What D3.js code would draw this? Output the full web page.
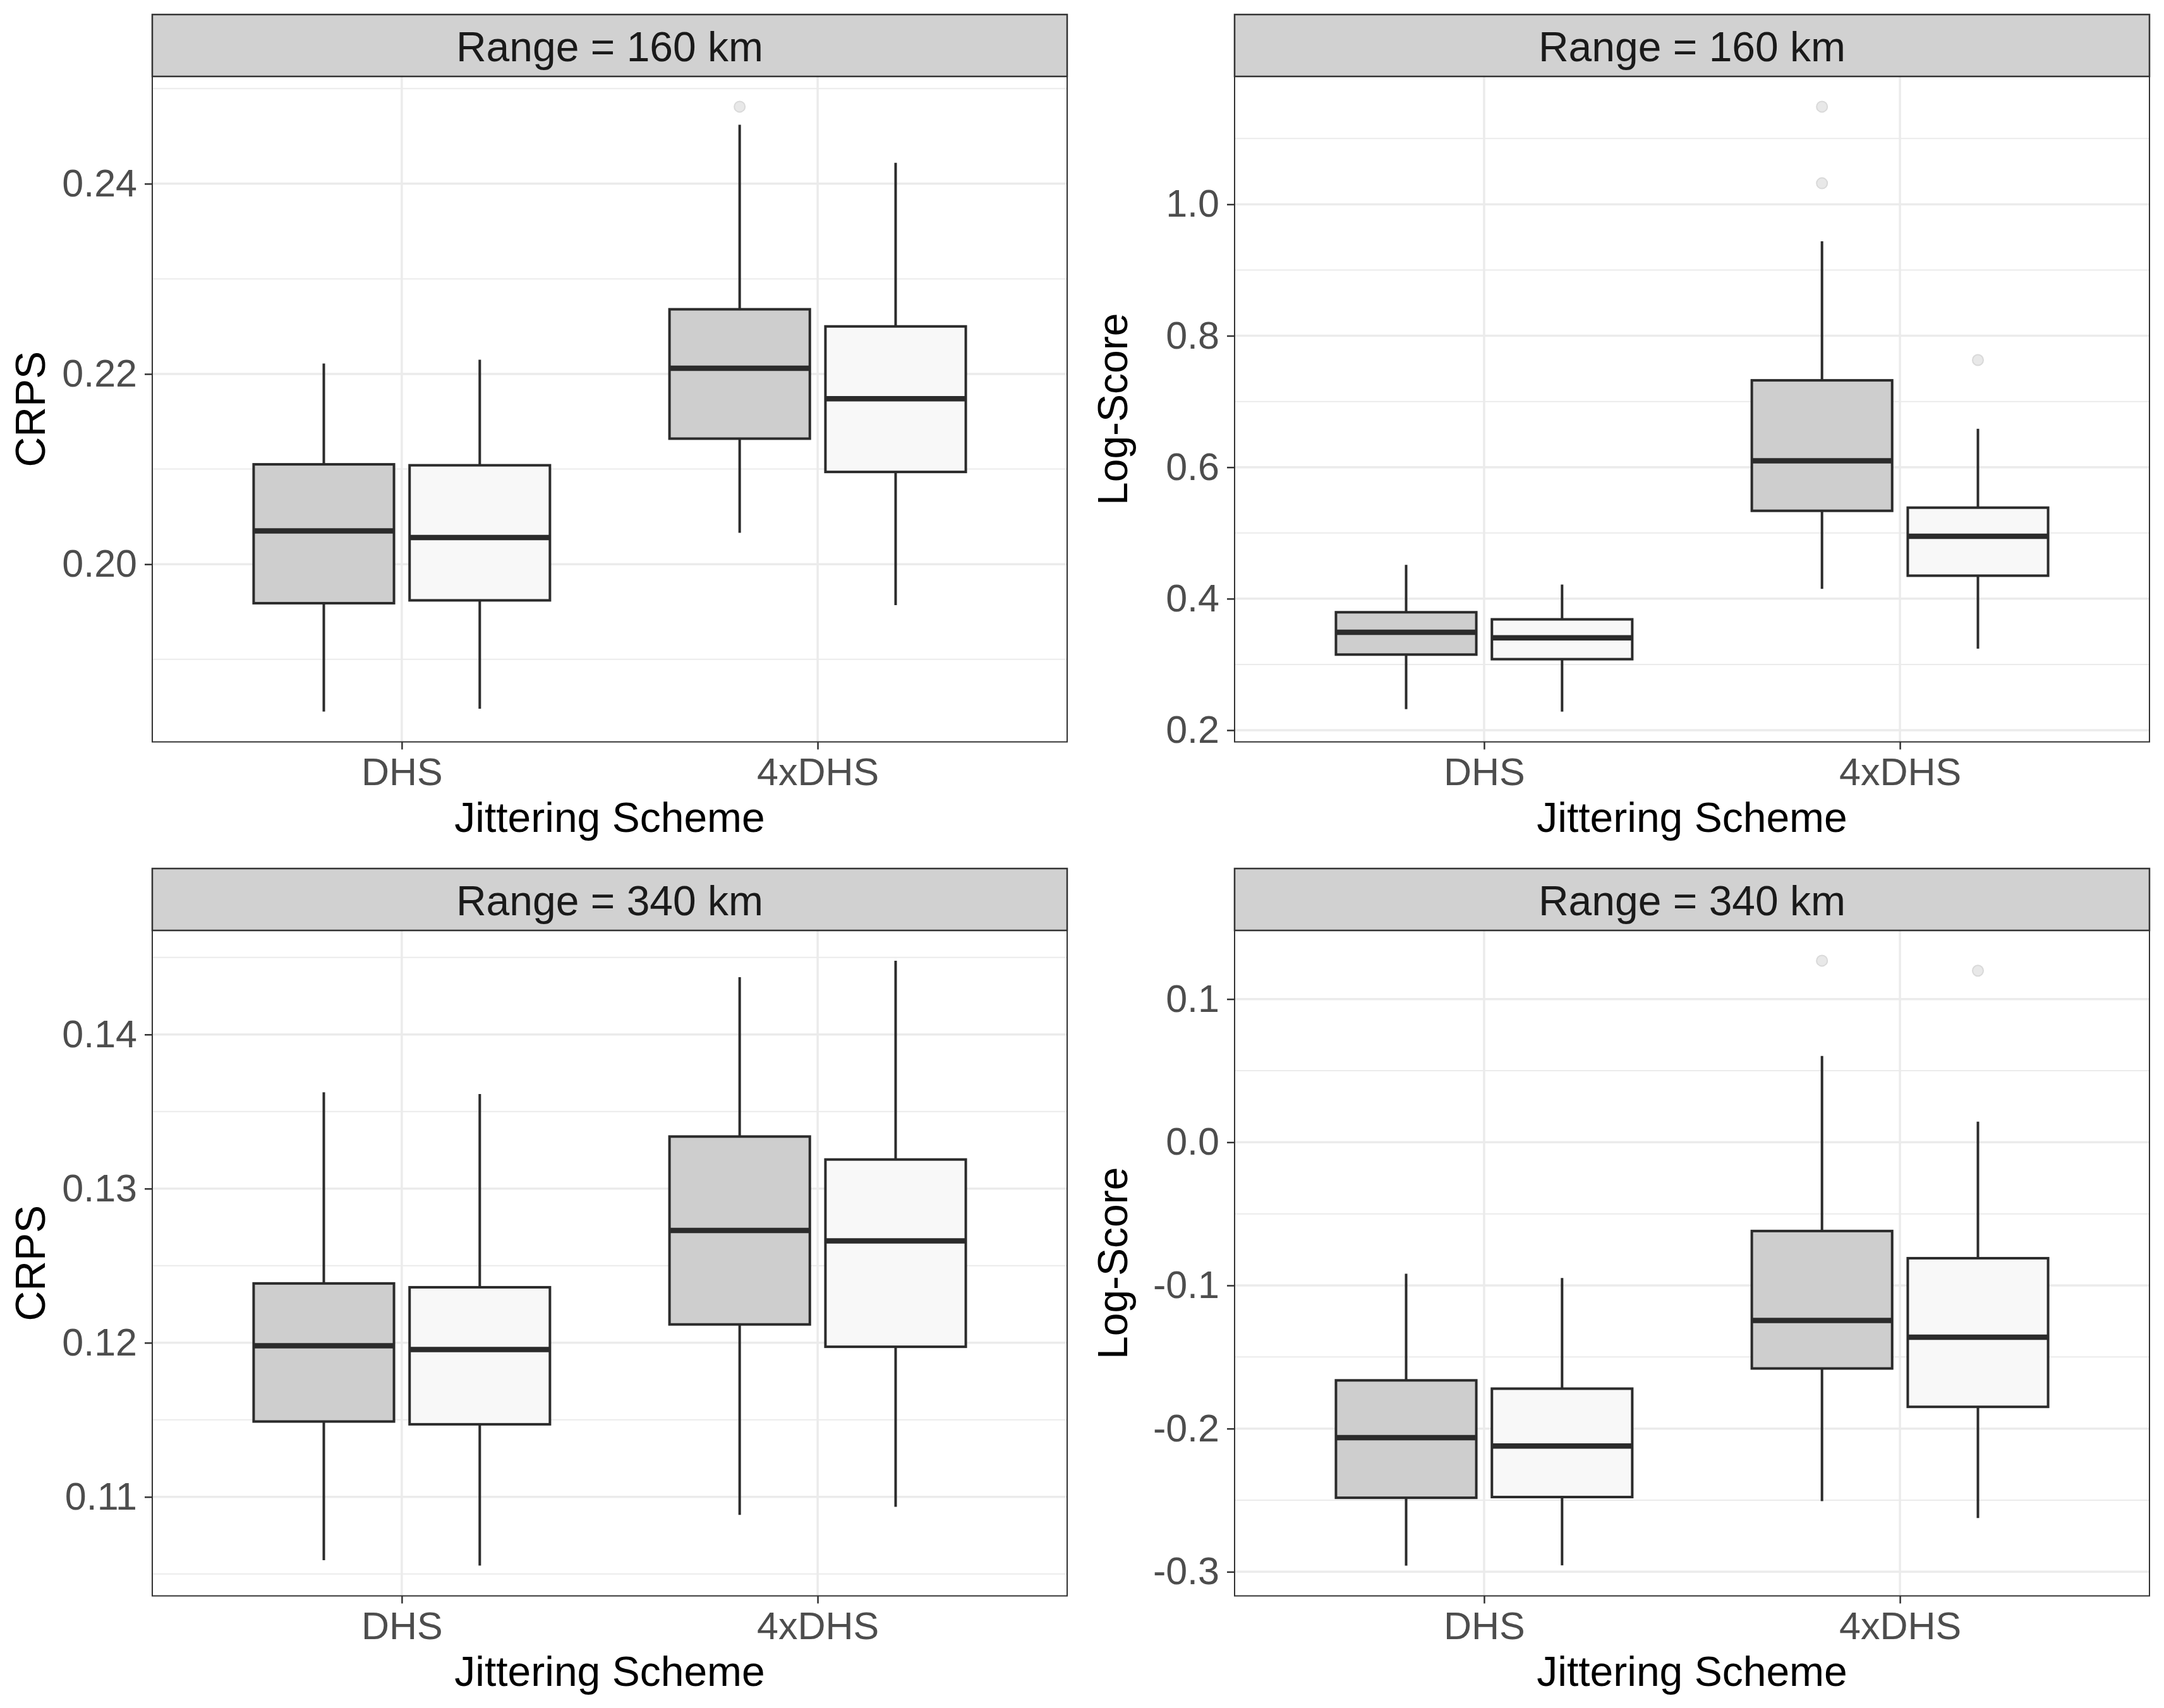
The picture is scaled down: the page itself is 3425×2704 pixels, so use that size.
<!DOCTYPE html>
<html>
<head>
<meta charset="utf-8">
<script src="https://cdn.jsdelivr.net/npm/d3@7"></script>
<style>
  body { margin: 0; background: #fff; }
  svg { display: block; font-family: "Liberation Sans", Arial, sans-serif; }
</style>
</head>
<body>
<svg id="chart"></svg>
<script>
// categories
const schemes = ["DHS", "4xDHS"];
const groups = ["A", "B"];
const ranges = ["Range = 160 km", "Range = 340 km"];

// box stats: [lower whisker, Q1, median, Q3, upper whisker]
// order: DHS-A, DHS-B, 4xDHS-A, 4xDHS-B
const crps160Box = [
  [0.1845, 0.1959, 0.2035, 0.2105, 0.2211],
  [0.1848, 0.1962, 0.2028, 0.2104, 0.2215],
  [0.2033, 0.2132, 0.2206, 0.2268, 0.2462],
  [0.1957, 0.2097, 0.2174, 0.2250, 0.2422]
];
const crps160Out = [[], [], [0.2481], []];

const logs160Box = [
  [0.2320, 0.3150, 0.3490, 0.3794, 0.4515],
  [0.2282, 0.3080, 0.3405, 0.3686, 0.4215],
  [0.4150, 0.5337, 0.6097, 0.7322, 0.9436],
  [0.3240, 0.4350, 0.4950, 0.5385, 0.6585]
];
const logs160Out = [[], [], [1.0320, 1.1485], [0.7630]];

const crps340Box = [
  [0.10589, 0.11489, 0.11981, 0.12385, 0.13625],
  [0.10554, 0.11471, 0.11956, 0.12360, 0.13614],
  [0.10883, 0.12119, 0.12729, 0.13338, 0.14372],
  [0.10936, 0.11974, 0.12661, 0.13189, 0.14479]
];
const crps340Out = [[], [], [], []];

const logs340Box = [
  [-0.2957, -0.2483, -0.2063, -0.1663, -0.0918],
  [-0.2955, -0.2478, -0.2122, -0.1721, -0.0948],
  [-0.2506, -0.1580, -0.1245, -0.0620, 0.0602],
  [-0.2625, -0.1848, -0.1362, -0.0810, 0.0144]
];
const logs340Out = [[], [], [0.1268], [0.1198]];

// tick labels
const crps160Ticks = [0.20, 0.22, 0.24];
const crps160Labels = ["0.20", "0.22", "0.24"];
const logs160Ticks = [0.2, 0.4, 0.6, 0.8, 1.0];
const logs160Labels = ["0.2", "0.4", "0.6", "0.8", "1.0"];
const crps340Ticks = [0.11, 0.12, 0.13, 0.14];
const crps340Labels = ["0.11", "0.12", "0.13", "0.14"];
const logs340Ticks = [-0.3, -0.2, -0.1, 0.0, 0.1];
const logs340Labels = ["-0.3", "-0.2", "-0.1", "0.0", "0.1"];

const W = 3425, H = 2704;
const cellW = 1713, cellH = 1352;
const m = {left: 241, right: 1689, stripTop: 23, top: 121, bottom: 1174.5};

const svg = d3.select("#chart").attr("width", W).attr("height", H);
svg.append("rect").attr("width", W).attr("height", H).attr("fill", "#fff");

const fill = d3.scaleOrdinal().domain(groups).range(["#cccccc", "#f8f8f8"]);

const panels = [
  {col: 0, row: 0, strip: ranges[0], ylab: "CRPS", box: crps160Box, out: crps160Out, ticks: crps160Ticks, labels: crps160Labels},
  {col: 1, row: 0, strip: ranges[0], ylab: "Log-Score", box: logs160Box, out: logs160Out, ticks: logs160Ticks, labels: logs160Labels},
  {col: 0, row: 1, strip: ranges[1], ylab: "CRPS", box: crps340Box, out: crps340Out, ticks: crps340Ticks, labels: crps340Labels},
  {col: 1, row: 1, strip: ranges[1], ylab: "Log-Score", box: logs340Box, out: logs340Out, ticks: logs340Ticks, labels: logs340Labels}
];

panels.forEach(p => {
  const g = svg.append("g").attr("transform", "translate(" + (p.col * cellW) + "," + (p.row * cellH) + ")");
  const pw = m.right - m.left;

  // y domain like ggplot: data range + 5% each side
  const all = p.box.flat().concat(p.out.flat());
  const lo = d3.min(all), hi = d3.max(all), pad = (hi - lo) * 0.05;
  const y = d3.scaleLinear().domain([lo - pad, hi + pad]).range([m.bottom, m.top]);

  const x = d3.scalePoint().domain(schemes).range([m.left, m.right]).padding(0.6);
  const step = x.step();
  const xg = d3.scaleBand().domain(groups).range([-0.375 * step, 0.375 * step]);
  const bw = xg.bandwidth() * 0.9;

  // minor breaks halfway between majors
  const d = p.ticks[1] - p.ticks[0];
  const minors = [p.ticks[0] - d / 2].concat(p.ticks.map(t => t + d / 2))
    .filter(v => v >= y.domain()[0] && v <= y.domain()[1]);

  const grid = g.append("g");
  grid.selectAll(".minor").data(minors).join("line")
    .attr("x1", m.left).attr("x2", m.right)
    .attr("y1", v => y(v)).attr("y2", v => y(v))
    .attr("stroke", "#ebebeb").attr("stroke-width", 2);
  grid.selectAll(".major").data(p.ticks).join("line")
    .attr("x1", m.left).attr("x2", m.right)
    .attr("y1", v => y(v)).attr("y2", v => y(v))
    .attr("stroke", "#ebebeb").attr("stroke-width", 3.5);
  grid.selectAll(".vmajor").data(schemes).join("line")
    .attr("x1", s => x(s)).attr("x2", s => x(s))
    .attr("y1", m.top).attr("y2", m.bottom)
    .attr("stroke", "#ebebeb").attr("stroke-width", 3.5);

  // boxes
  const items = [];
  schemes.forEach((s, i) => groups.forEach((gr, j) => {
    items.push({s: s, gr: gr, st: p.box[i * groups.length + j], out: p.out[i * groups.length + j]});
  }));

  const bx = g.append("g").selectAll("g").data(items).join("g")
    .attr("transform", b => "translate(" + (x(b.s) + xg(b.gr) + xg.bandwidth() / 2) + ",0)");

  bx.append("line")
    .attr("y1", b => y(b.st[0])).attr("y2", b => y(b.st[1]))
    .attr("stroke", "#2b2b2b").attr("stroke-width", 4);
  bx.append("line")
    .attr("y1", b => y(b.st[3])).attr("y2", b => y(b.st[4]))
    .attr("stroke", "#2b2b2b").attr("stroke-width", 4);
  bx.append("rect")
    .attr("x", -bw / 2).attr("width", bw)
    .attr("y", b => y(b.st[3])).attr("height", b => y(b.st[1]) - y(b.st[3]))
    .attr("fill", b => fill(b.gr)).attr("fill-opacity", 0.97)
    .attr("stroke", "#2b2b2b").attr("stroke-width", 4);
  bx.append("line")
    .attr("x1", -bw / 2).attr("x2", bw / 2)
    .attr("y1", b => y(b.st[2])).attr("y2", b => y(b.st[2]))
    .attr("stroke", "#2b2b2b").attr("stroke-width", 8.5);
  bx.selectAll("circle").data(b => b.out).join("circle")
    .attr("cy", v => y(v)).attr("r", 8.5)
    .attr("fill", "#e8e8e8").attr("stroke", "#d9d9d9").attr("stroke-width", 2);

  // panel border
  g.append("rect")
    .attr("x", m.left).attr("y", m.top).attr("width", pw).attr("height", m.bottom - m.top)
    .attr("fill", "none").attr("stroke", "#333").attr("stroke-width", 2);

  // strip
  g.append("rect")
    .attr("x", m.left).attr("y", m.stripTop).attr("width", pw).attr("height", m.top - m.stripTop)
    .attr("fill", "#d1d1d1").attr("stroke", "#333").attr("stroke-width", 2.5);
  g.append("text")
    .attr("x", (m.left + m.right) / 2).attr("y", 97)
    .attr("text-anchor", "middle").attr("font-size", 66).attr("fill", "#1a1a1a")
    .text(p.strip);

  // axes
  const yAxis = g.append("g").attr("transform", "translate(" + m.left + ",0)")
    .call(d3.axisLeft(y).tickValues(p.ticks).tickFormat((v, i) => p.labels[i]).tickSize(12).tickPadding(12));
  yAxis.select(".domain").remove();
  yAxis.selectAll("line").attr("stroke", "#333").attr("stroke-width", 2.5);
  yAxis.selectAll("text").attr("font-size", 61).attr("fill", "#4d4d4d").attr("font-family", null);

  const xAxis = g.append("g").attr("transform", "translate(0," + m.bottom + ")")
    .call(d3.axisBottom(x).tickSize(12).tickPadding(13));
  xAxis.select(".domain").remove();
  xAxis.selectAll("line").attr("stroke", "#333").attr("stroke-width", 2.5);
  xAxis.selectAll("text").attr("font-size", 61).attr("fill", "#4d4d4d").attr("font-family", null);

  // titles
  g.append("text")
    .attr("x", (m.left + m.right) / 2).attr("y", 1317)
    .attr("text-anchor", "middle").attr("font-size", 66).attr("fill", "#000")
    .text("Jittering Scheme");
  g.append("text")
    .attr("transform", "translate(71," + ((m.top + m.bottom) / 2) + ") rotate(-90)")
    .attr("text-anchor", "middle").attr("font-size", 66).attr("fill", "#000")
    .text(p.ylab);
});
</script>
</body>
</html>
